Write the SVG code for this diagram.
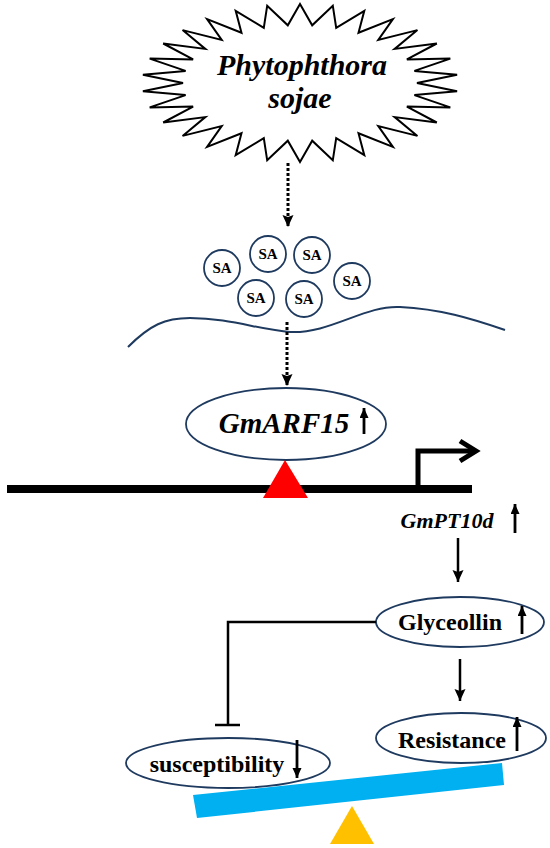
<svg xmlns="http://www.w3.org/2000/svg" width="550" height="848" viewBox="0 0 550 848">
<style>
.navy{fill:#fff;stroke:#1f3a5f;stroke-width:1.8}
.t{font-family:"Liberation Serif","Times New Roman",serif;font-weight:bold;fill:#000;text-anchor:middle}
.it{font-style:italic}
.dot{stroke:#000;stroke-width:3;stroke-dasharray:3 2;fill:none}
.ln{stroke:#000;stroke-width:2.5;fill:none}
.ind{stroke:#000;stroke-width:2.8;fill:none}
</style>
<defs>
<marker id="ah" markerUnits="userSpaceOnUse" markerWidth="13" markerHeight="12" refX="12" refY="5.5" orient="auto" viewBox="0 0 13 12">
<path d="M0,0 L12,5.5 L0,11 L2,5.5 Z" fill="#000"/>
</marker>
<marker id="ahs" markerUnits="userSpaceOnUse" markerWidth="11" markerHeight="10" refX="10" refY="4.5" orient="auto" viewBox="0 0 11 10">
<path d="M0,0 L10,4.5 L0,9 Z" fill="#000"/>
</marker>
</defs>
<rect width="550" height="848" fill="#fff"/>
<g id="pathogen">
<polygon fill="#fff" stroke="#000" stroke-width="2" points="300,4 312.2,25.3 332.8,5.7 336.2,27.8 364.3,10.8 358.5,32.8 392.9,19.1 378.3,39.9 417.4,30.1 394.7,48.9 436.8,43.5 406.9,59.4 450.3,58.6 414.4,70.9 457.1,74.7 417,83 457.1,91.3 414.4,95.1 450.3,107.4 406.9,106.6 436.8,122.5 394.7,117.1 417.4,135.9 378.3,126.1 392.9,146.9 358.5,133.2 364.3,155.2 336.2,138.2 332.8,160.3 312.2,140.7 300,162 287.8,140.7 267.2,160.3 263.8,138.2 235.7,155.2 241.5,133.2 207.1,146.9 221.7,126.1 182.6,135.9 205.3,117.1 163.2,122.5 193.1,106.6 149.7,107.4 185.6,95.1 142.9,91.3 183,83 142.9,74.7 185.6,70.9 149.7,58.6 193.1,59.4 163.2,43.5 205.3,48.9 182.6,30.1 221.7,39.9 207.1,19.1 241.5,32.8 235.7,10.8 263.8,27.8 267.2,5.7 287.8,25.3"/>
<text class="t it" x="302" y="75" font-size="30">Phytophthora</text>
<text class="t it" x="300" y="108" font-size="30">sojae</text>
</g>
<g id="sa">
<circle class="navy" cx="222" cy="268" r="18"/><text class="t" x="222" y="273" font-size="15">SA</text>
<circle class="navy" cx="268" cy="254" r="18"/><text class="t" x="268" y="259" font-size="15">SA</text>
<circle class="navy" cx="312" cy="255" r="18"/><text class="t" x="312" y="260" font-size="15">SA</text>
<circle class="navy" cx="352" cy="281" r="18"/><text class="t" x="352" y="286" font-size="15">SA</text>
<circle class="navy" cx="256" cy="298" r="18"/><text class="t" x="256" y="303" font-size="15">SA</text>
<circle class="navy" cx="304" cy="299" r="18"/><text class="t" x="304" y="304" font-size="15">SA</text>
</g>
<g id="membrane">
<path d="M128,347 C150,325 165,318 190,318 C230,318 260,330 290,332 C330,334 365,305 400,307 C440,309 470,318 505,330" fill="none" stroke="#1f3a5f" stroke-width="2"/>
</g>
<g id="gmarf15">
<ellipse class="navy" cx="286" cy="424" rx="100" ry="36"/>
<text class="t it" x="284" y="433" font-size="29">GmARF15</text>
<line class="ind" x1="364" y1="434" x2="364" y2="408" marker-end="url(#ahs)"/>
</g>
<g id="dna">
<rect x="7" y="485" width="465" height="8" fill="#000"/>
<polygon points="285,460 263,498 308,498" fill="#ff0000"/>
<path d="M418,489 V451 H474" fill="none" stroke="#000" stroke-width="5"/>
<polyline points="460,441 476,451 460,461" fill="none" stroke="#000" stroke-width="5"/>
</g>
<g id="gmpt10d">
<text class="t it" x="447" y="528" font-size="22">GmPT10d</text>
<line class="ind" x1="515" y1="533" x2="515" y2="504" marker-end="url(#ahs)"/>
</g>
<g id="glyceollin">
<ellipse class="navy" cx="460" cy="622" rx="84" ry="25"/>
<text class="t" x="450" y="630" font-size="24">Glyceollin</text>
<line class="ind" x1="522" y1="634" x2="522" y2="606" marker-end="url(#ahs)"/>
</g>
<g id="resistance">
<ellipse class="navy" cx="461" cy="738" rx="85" ry="25"/>
<text class="t" x="452" y="748" font-size="24">Resistance</text>
<line class="ind" x1="517" y1="751" x2="517" y2="717" marker-end="url(#ahs)"/>
</g>
<g id="susceptibility">
<ellipse class="navy" cx="228" cy="763" rx="102" ry="25"/>
<text class="t" x="217" y="772" font-size="24">susceptibility</text>
<line class="ind" x1="297" y1="740" x2="297" y2="778" marker-end="url(#ahs)"/>
</g>
<g id="balance">
<polygon points="193,795 502,763 504,785 197,818" fill="#00b0f0"/>
<polygon points="352,806 330,844 374,844" fill="#ffc000"/>
</g>
<g id="connectors">
<line class="dot" x1="288" y1="163" x2="288" y2="227" marker-end="url(#ah)"/>
<line class="dot" x1="287" y1="322" x2="287" y2="386" marker-end="url(#ah)"/>
<line class="ln" x1="458" y1="538" x2="458" y2="582" marker-end="url(#ah)"/>
<line class="ln" x1="460" y1="659" x2="460" y2="701" marker-end="url(#ah)"/>
<path class="ln" d="M376,622 H228 V725" stroke-width="2"/>
<line class="ln" x1="215" y1="725" x2="240" y2="725" stroke-width="2"/>
</g>
</svg>
